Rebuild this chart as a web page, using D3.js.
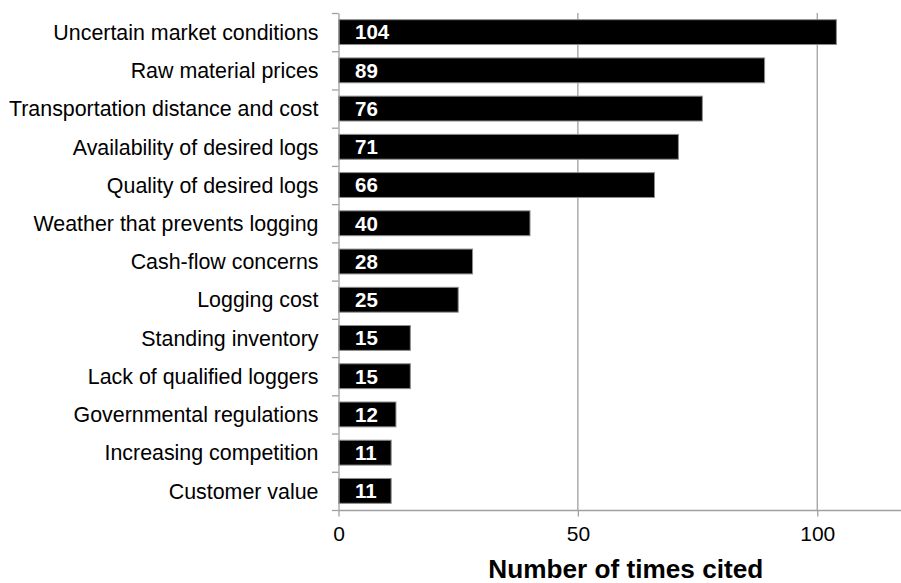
<!DOCTYPE html>
<html>
<head>
<meta charset="utf-8">
<script src="https://cdn.jsdelivr.net/npm/d3@7"></script>
<style>
  html, body { margin: 0; padding: 0; background: #fff; }
  svg { display: block; font-family: "Liberation Sans", Arial, sans-serif; }
</style>
</head>
<body>
<svg id="chart" width="901" height="583"></svg>
<script>
// Reasons cited, top to bottom
const categories = [
  "Uncertain market conditions",
  "Raw material prices",
  "Transportation distance and cost",
  "Availability of desired logs",
  "Quality of desired logs",
  "Weather that prevents logging",
  "Cash-flow concerns",
  "Logging cost",
  "Standing inventory",
  "Lack of qualified loggers",
  "Governmental regulations",
  "Increasing competition",
  "Customer value"
];
const counts = [104, 89, 76, 71, 66, 40, 28, 25, 15, 15, 12, 11, 11];
const xTicks = [0, 50, 100];
const xTitle = "Number of times cited";

const svg = d3.select("#chart");
const margin = { left: 338.5, top: 13, bottom: 510 };
const plotRight = 913;
const axisGrey = "#a0a0a0";

const x = d3.scaleLinear().domain([0, 120]).range([margin.left, plotRight]);
const y = d3.scaleBand()
  .domain(categories)
  .range([margin.top, margin.bottom])
  .paddingInner(0.35)
  .paddingOuter(0.175);
// boundaries between category bands, for the left axis tick marks
const yEdge = d3.scaleLinear().domain([0, categories.length]).range([margin.top, margin.bottom]);

// vertical gridlines
svg.append("g")
  .selectAll("line")
  .data(xTicks.filter(d => d > 0))
  .join("line")
  .attr("x1", d => x(d)).attr("x2", d => x(d))
  .attr("y1", margin.top).attr("y2", margin.bottom)
  .attr("stroke", axisGrey).attr("stroke-width", 1.3);

// bars
const rows = categories.map((c, i) => ({ name: c, value: counts[i] }));
svg.append("g")
  .selectAll("rect")
  .data(rows)
  .join("rect")
  .attr("x", x(0))
  .attr("y", d => y(d.name))
  .attr("width", d => x(d.value) - x(0))
  .attr("height", y.bandwidth())
  .attr("fill", "#000")
  .attr("stroke", "#8c8c8c")
  .attr("stroke-width", 1);

// value labels inside bars
svg.append("g")
  .selectAll("text")
  .data(rows)
  .join("text")
  .attr("x", x(0) + 16.5)
  .attr("y", d => y(d.name) + y.bandwidth() / 2)
  .attr("dy", "0.36em")
  .attr("fill", "#fff")
  .attr("font-weight", "bold")
  .attr("font-size", 20.5)
  .text(d => d.value);

// x axis
const xAxis = svg.append("g")
  .attr("transform", `translate(0,${margin.bottom})`)
  .call(d3.axisBottom(x).tickValues(xTicks).tickSize(6.5).tickPadding(10).tickSizeOuter(0));
xAxis.select(".domain").attr("stroke", axisGrey).attr("stroke-width", 1.3);
xAxis.selectAll(".tick line").attr("stroke", axisGrey).attr("stroke-width", 1.3);
xAxis.selectAll(".tick text")
  .attr("font-size", 21).attr("fill", "#000")
  .attr("font-family", "'Liberation Sans', Arial, sans-serif");

// y axis line and boundary ticks
const yAxis = svg.append("g")
  .attr("transform", `translate(${margin.left},0)`)
  .call(d3.axisLeft(yEdge).tickValues(d3.range(categories.length + 1)).tickFormat("").tickSize(6.5).tickSizeOuter(0));
yAxis.select(".domain").attr("stroke", axisGrey).attr("stroke-width", 1.3);
yAxis.selectAll(".tick line").attr("stroke", axisGrey).attr("stroke-width", 1.3);

// category labels
svg.append("g")
  .selectAll("text")
  .data(categories)
  .join("text")
  .attr("x", 318.5)
  .attr("y", d => y(d) + y.bandwidth() / 2)
  .attr("dy", "0.36em")
  .attr("text-anchor", "end")
  .attr("font-size", 21.4)
  .attr("fill", "#000")
  .text(d => d);

// x axis title
svg.append("text")
  .attr("x", (x(0) + plotRight) / 2)
  .attr("y", 578)
  .attr("text-anchor", "middle")
  .attr("font-weight", "bold")
  .attr("font-size", 26.2)
  .attr("fill", "#000")
  .text(xTitle);
</script>
</body>
</html>
